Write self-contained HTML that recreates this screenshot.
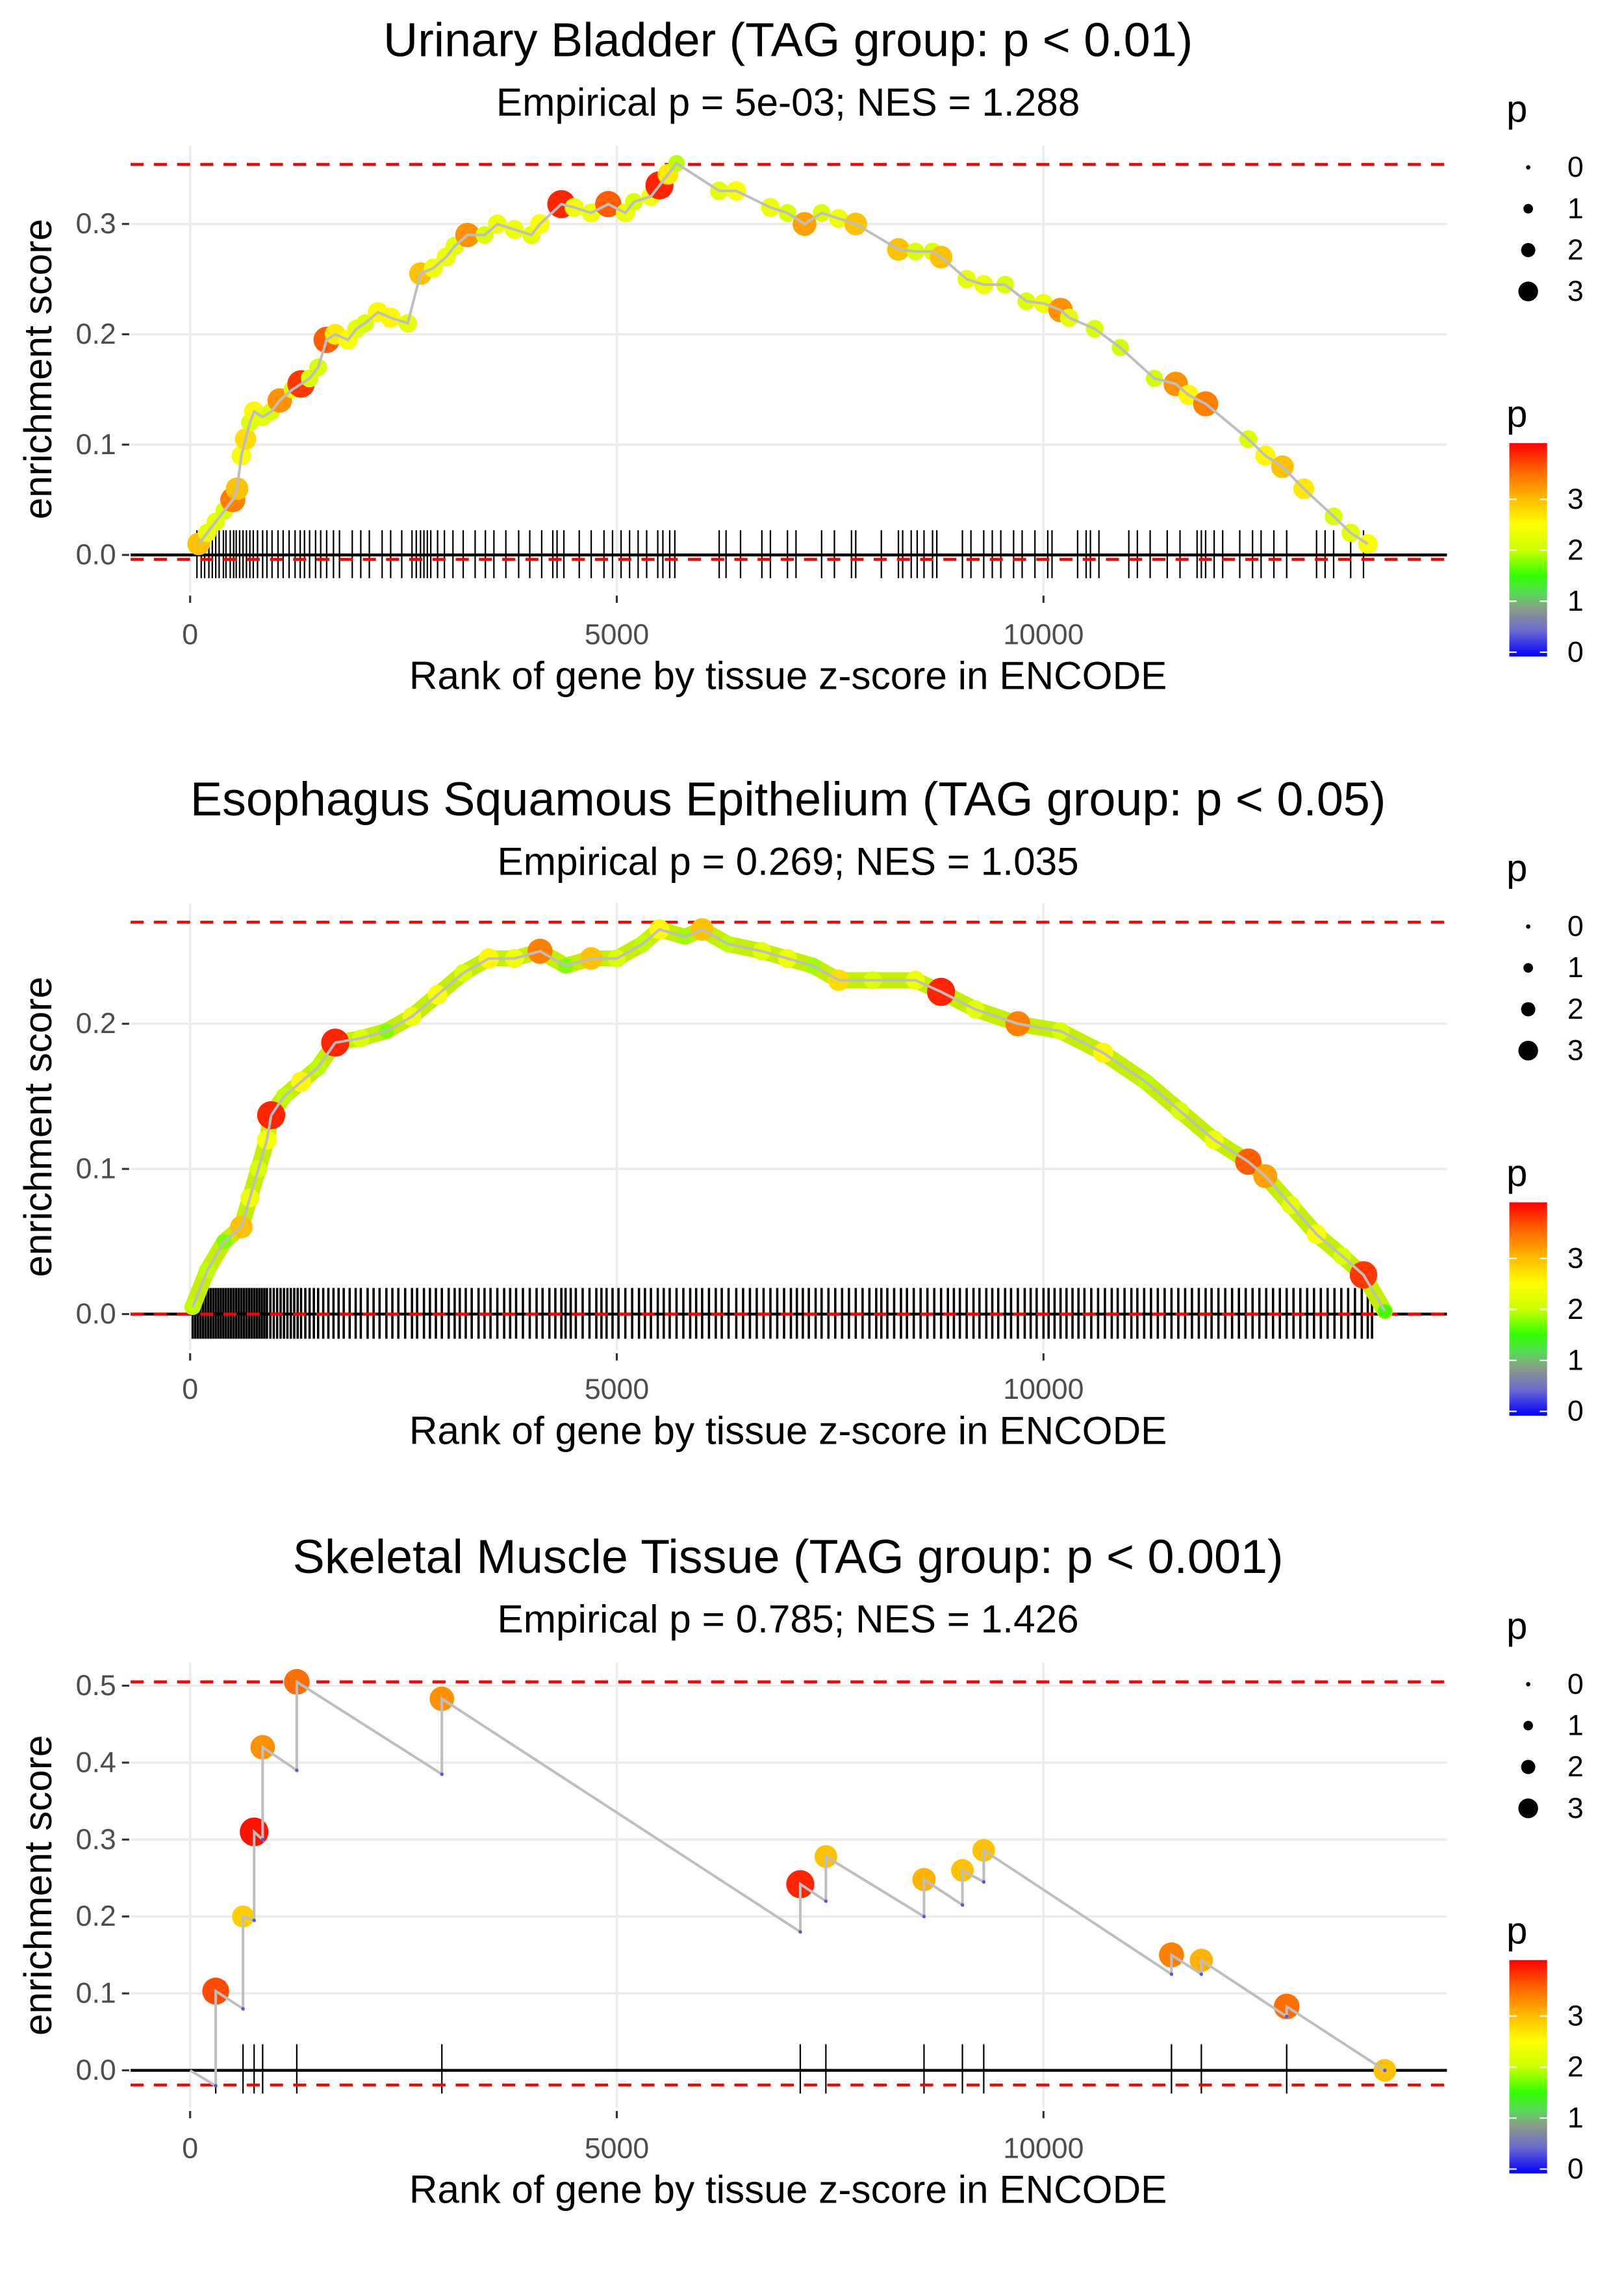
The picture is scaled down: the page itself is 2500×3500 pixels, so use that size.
<!DOCTYPE html>
<html><head><meta charset="utf-8">
<style>
html,body{margin:0;padding:0;background:#fff;}
svg{display:block;}
text{font-family:"Liberation Sans",sans-serif;}
</style></head>
<body>
<svg id="chart" width="2500" height="3500" viewBox="0 0 1119 1566" xmlns="http://www.w3.org/2000/svg">
<defs>
<linearGradient id="pgrad" x1="0" y1="1" x2="0" y2="0">
<stop offset="0" stop-color="#0000ff"/>
<stop offset="0.12" stop-color="#6a6ad0"/>
<stop offset="0.22" stop-color="#8a9a8a"/>
<stop offset="0.3" stop-color="#55dd55"/>
<stop offset="0.38" stop-color="#33ff00"/>
<stop offset="0.5" stop-color="#ccff00"/>
<stop offset="0.62" stop-color="#ffff00"/>
<stop offset="0.74" stop-color="#ffbb00"/>
<stop offset="0.87" stop-color="#ff6600"/>
<stop offset="1" stop-color="#ff0000"/>
</linearGradient>
</defs>
<g id="root"></g>
</svg>
<script>
// ---------- Panel 1 data: Urinary Bladder ----------
const p1Rank = [100,200,300,400,500,550,600,650,700,750,850,950,1050,1200,1300,1400,1500,1600,1700,1850,1950,2050,2200,2350,2550,2700,2850,3000,3100,3250,3450,3600,3800,4000,4100,4350,4500,4700,4900,5100,5200,5400,5500,5600,5700,6200,6400,6800,7000,7200,7400,7600,7800,8300,8500,8700,8800,9100,9300,9550,9800,10000,10200,10300,10600,10900,11300,11550,11700,11900,12400,12600,12800,13050,13400,13600,13800];
const p1ES = [0.01,0.02,0.03,0.04,0.05,0.06,0.09,0.105,0.12,0.13,0.125,0.13,0.14,0.15,0.155,0.16,0.17,0.195,0.2,0.195,0.205,0.21,0.22,0.215,0.21,0.255,0.26,0.27,0.28,0.29,0.29,0.3,0.295,0.29,0.3,0.318,0.315,0.31,0.318,0.31,0.32,0.325,0.335,0.345,0.355,0.33,0.33,0.315,0.31,0.3,0.31,0.305,0.3,0.277,0.275,0.275,0.27,0.25,0.245,0.245,0.23,0.228,0.222,0.215,0.205,0.188,0.16,0.155,0.145,0.137,0.105,0.09,0.08,0.06,0.035,0.02,0.01];
const p1P = [3.0,2.3,2.3,2.2,3.4,3.0,2.5,2.8,2.2,2.6,2.3,2.2,3.3,2.2,3.8,2.2,2.2,3.6,2.7,2.5,2.3,2.2,2.6,2.6,2.3,3.0,2.4,2.4,2.3,3.3,2.2,2.4,2.4,2.3,2.5,3.9,2.4,2.4,3.6,2.4,2.2,2.4,3.9,2.7,2.0,2.3,2.5,2.4,2.2,3.2,2.2,2.4,3.0,3.0,2.2,2.2,3.0,2.3,2.4,2.2,2.2,2.4,3.3,2.3,2.2,2.1,2.1,3.3,2.6,3.4,2.2,2.6,3.0,2.7,2.2,2.3,2.5];
const p1Ticks = [80,130,170,220,260,300,340,390,420,470,510,540,580,620,660,700,740,790,850,900,960,1030,1090,1160,1230,1290,1340,1400,1470,1530,1600,1680,1750,1900,2000,2100,2250,2350,2480,2600,2650,2700,2740,2780,2820,2900,2980,3080,3200,3340,3460,3560,3700,3850,3980,4120,4250,4300,4380,4560,4700,4850,4950,5050,5150,5250,5350,5480,5540,5620,5680,6200,6280,6450,6700,6800,7000,7100,7400,7550,7750,7800,8100,8300,8350,8450,8520,8600,8700,8750,9050,9150,9300,9400,9500,9650,9750,9900,10050,10100,10400,10500,10550,10650,11000,11100,11250,11450,11600,11800,11850,11900,12000,12100,12300,12450,12550,12700,12850,13200,13300,13400,13600,13750];
const p1YTicks = [0,0.1,0.2,0.3];
const p1YTickLabels = ["0.0","0.1","0.2","0.3"];
const p1Max = 0.354, p1Min = -0.004;

// ---------- Panel 2 data: Esophagus ----------
const p2Rank = [30,200,400,600,700,800,900,950,1100,1300,1500,1700,2000,2300,2600,2900,3200,3500,3800,4100,4400,4700,5000,5300,5500,5800,6000,6300,6700,7000,7300,7600,8000,8500,8800,9200,9700,10200,10700,11200,11600,12000,12400,12600,12900,13200,13500,13750,14000];
const p2ES = [0.005,0.03,0.05,0.06,0.08,0.1,0.12,0.137,0.15,0.16,0.17,0.187,0.19,0.195,0.205,0.22,0.235,0.245,0.245,0.25,0.24,0.245,0.245,0.255,0.265,0.26,0.265,0.255,0.25,0.245,0.24,0.23,0.23,0.23,0.222,0.21,0.2,0.195,0.18,0.16,0.14,0.12,0.105,0.095,0.075,0.055,0.04,0.027,0.002];
const p2P = [2.0,2.0,1.8,3.0,2.4,2.2,2.5,3.9,2.0,2.6,2.0,3.9,2.2,1.8,2.4,2.5,2.2,2.6,2.4,3.4,1.8,3.0,2.2,2.0,2.6,1.9,3.0,2.0,2.3,2.4,1.9,2.8,2.2,2.4,3.9,2.3,3.4,2.2,2.6,2.0,2.2,2.4,3.6,3.2,2.3,2.5,2.2,3.8,1.6];
const p2Ticks = [30,60,90,120,150,180,210,240,270,300,330,360,390,420,450,480,510,540,570,600,630,660,690,720,750,780,810,840,870,900,940,980,1020,1060,1100,1140,1180,1220,1260,1300,1350,1400,1450,1500,1560,1620,1680,1740,1800,1870,1940,2000,2080,2150,2220,2300,2370,2440,2520,2600,2660,2740,2810,2880,2950,3030,3100,3160,3230,3300,3380,3450,3520,3600,3680,3750,3820,3900,3980,4060,4130,4210,4280,4350,4400,4460,4520,4600,4680,4760,4820,4880,4950,5020,5100,5180,5260,5330,5400,5480,5550,5620,5700,5780,5860,5930,6000,6080,6160,6230,6310,6400,6480,6560,6640,6720,6800,6880,6960,7040,7110,7180,7250,7330,7400,7480,7560,7640,7720,7800,7880,7960,8040,8100,8170,8250,8330,8400,8480,8560,8640,8720,8800,8880,8950,9020,9100,9180,9250,9330,9400,9470,9550,9620,9700,9780,9850,9920,10000,10060,10130,10200,10270,10340,10410,10480,10560,10640,10720,10800,10870,10950,11030,11100,11180,11260,11340,11420,11500,11580,11660,11740,11820,11900,11970,12050,12130,12210,12290,12370,12450,12530,12610,12690,12770,12850,12930,13010,13090,13170,13250,13330,13410,13490,13570,13650,13730,13800,13850];
const p2YTicks = [0,0.1,0.2];
const p2YTickLabels = ["0.0","0.1","0.2"];
const p2Max = 0.27, p2Min = 0.0;

// ---------- Panel 3 data: Skeletal Muscle ----------
const p3Rank = [300,620,750,850,1250,2950,7150,7450,8600,9050,9300,11500,11850,12850,14000];
const p3ESBefore = [-0.02,0.08,0.195,0.3,0.39,0.385,0.18,0.22,0.2,0.215,0.245,0.125,0.125,0.07,0.0];
const p3ESAfter = [0.103,0.2,0.31,0.42,0.505,0.483,0.242,0.278,0.248,0.26,0.286,0.15,0.143,0.083,0.0];
const p3P = [3.7,2.9,4.0,3.3,3.5,3.3,3.9,3.0,3.1,3.0,3.0,3.4,3.1,3.5,3.0];
const p3YTicks = [0,0.1,0.2,0.3,0.4,0.5];
const p3YTickLabels = ["0.0","0.1","0.2","0.3","0.4","0.5"];
const p3Max = 0.505, p3Min = -0.019;

const xTicks = [0,5000,10000];
const xTickLabels = ["0","5000","10000"];
const sizeLegendVals = [0,1,2,3];
const colorLegendVals = [0,1,2,3];

const NS = "http://www.w3.org/2000/svg";
const root = document.getElementById('root');
function mk(tag, attrs, parent){
  const e = document.createElementNS(NS, tag);
  for (const k in attrs) e.setAttribute(k, attrs[k]);
  (parent||root).appendChild(e);
  return e;
}
const stops = [[0,[0,0,255]],[0.5,[106,106,208]],[0.9,[138,154,138]],[1.2,[85,221,85]],[1.55,[51,255,0]],[2.05,[204,255,0]],[2.55,[255,255,0]],[3.05,[255,187,0]],[3.55,[255,102,0]],[4.1,[255,0,0]]];
function pColor(p){
  if (p<=stops[0][0]) return 'rgb(0,0,255)';
  for (let i=1;i<stops.length;i++){
    if (p<=stops[i][0]){
      const a=stops[i-1], b=stops[i], t=(p-a[0])/(b[0]-a[0]);
      const c=a[1].map((v,j)=>Math.round(v+(b[1][j]-v)*t));
      return 'rgb('+c.join(',')+')';
    }
  }
  return 'rgb(255,0,0)';
}
function pRadius(p){ return 1.5 + p*2.1; }
const xScale = r => 131 + r*294/5000;
const L = 90, R = 997;

function frame(cfg){
  const g = mk('g', {});
  
  
  const y = v => cfg.y0 - v*cfg.ppu;
  cfg.yTicks.forEach((v,i)=>{
    const gl = mk('line',{x1:L,x2:R,y1:y(v),y2:y(v),stroke:'#ebebeb','stroke-width':1.6},g);
    
    
    const tk = mk('line',{x1:84,x2:89,y1:y(v),y2:y(v),stroke:'#333','stroke-width':1.4},g);
    
    
    const t = mk('text',{x:80,y:y(v),'text-anchor':'end','dominant-baseline':'central','font-size':20,fill:'#4d4d4d'},g);
    t.textContent = cfg.yLabels[i];
    
    
  });
  xTicks.forEach((v,i)=>{
    const gl = mk('line',{x1:xScale(v),x2:xScale(v),y1:cfg.top,y2:cfg.bottom,stroke:'#ebebeb','stroke-width':1.6},g);
    
    
    const tk = mk('line',{x1:xScale(v),x2:xScale(v),y1:cfg.bottom+2,y2:cfg.bottom+7,stroke:'#333','stroke-width':1.4},g);
    
    
    const t = mk('text',{x:xScale(v),y:cfg.xlab,'text-anchor':'middle','dominant-baseline':'central','font-size':20,fill:'#4d4d4d'},g);
    t.textContent = xTickLabels[i];
    
    
  });
  cfg.ticks.forEach(r=>{
    const b = mk('line',{x1:xScale(r),x2:xScale(r),y1:cfg.band[0],y2:cfg.band[1],stroke:'#000','stroke-width':cfg.tw||1},g);
    
    
  });
  const zl = mk('line',{x1:L,x2:R,y1:y(0),y2:y(0),stroke:'#000','stroke-width':2},g);
  
  
  [cfg.max,cfg.min].forEach(v=>{
    const d = mk('line',{x1:L,x2:R,y1:y(v),y2:y(v),stroke:'#ff0000','stroke-width':2,'stroke-dasharray':'9,7'},g);
    
    
  });
  const t1 = mk('text',{x:543,y:cfg.title,'text-anchor':'middle','dominant-baseline':'central','font-size':33,fill:'#000'},g);
  t1.textContent = cfg.titleText;
  
  
  const t2 = mk('text',{x:543,y:cfg.title+43,'text-anchor':'middle','dominant-baseline':'central','font-size':27,fill:'#000'},g);
  t2.textContent = cfg.subText;
  
  
  const xt = mk('text',{x:543,y:cfg.xlab+28,'text-anchor':'middle','dominant-baseline':'central','font-size':27,fill:'#000'},g);
  xt.textContent = 'Rank of gene by tissue z-score in ENCODE';
  
  
  const yc = (cfg.top+cfg.bottom)/2;
  const yt = mk('text',{x:26,y:yc,'text-anchor':'middle','dominant-baseline':'central','font-size':27,fill:'#000',transform:'rotate(-90 26 '+yc+')'},g);
  yt.textContent = 'enrichment score';
  
  
  const lo = cfg.title + 48;
  const sp = mk('text',{x:1038,y:lo,'font-size':26,'dominant-baseline':'central',fill:'#000'},g);
  sp.textContent='p';
  
  
  sizeLegendVals.forEach((v,i)=>{
    const yy = lo+40+i*28.5;
    const c = mk('circle',{cx:1053,cy:yy,r:[1.5,3.3,4.9,6.8][i],fill:'#000'},g);
    
    
    const t = mk('text',{x:1080,y:yy,'font-size':20,'dominant-baseline':'central',fill:'#000'},g);
    t.textContent = String(v);
    
    
  });
  const cp = mk('text',{x:1038,y:lo+210,'font-size':26,'dominant-baseline':'central',fill:'#000'},g);
  cp.textContent='p';
  
  
  const bt = lo+230, bb = lo+377;
  const bar = mk('rect',{x:1040,y:bt,width:26,height:bb-bt,fill:'url(#pgrad)'},g);
  
  
  colorLegendVals.forEach(v=>{
    const yy = bb-3 - v*(bb-bt-3)/4.1;
    mk('line',{x1:1040,x2:1045,y1:yy,y2:yy,stroke:'#fff','stroke-width':1},g);
    mk('line',{x1:1061,x2:1066,y1:yy,y2:yy,stroke:'#fff','stroke-width':1},g);
    const t = mk('text',{x:1080,y:yy,'font-size':20,'dominant-baseline':'central',fill:'#000'},g);
    t.textContent = String(v);
    
    
  });
  return {g, y};
}

function curvePanel(cfg, ranks, es, ps, lw){
  const {g, y} = frame(cfg);
  const pts = ranks.map((r,i)=>xScale(r)+','+y(es[i])).join(' ');
  if (lw){
    const band = mk('polyline',{points:pts,fill:'none',stroke:'#c4f000','stroke-width':lw,'stroke-linejoin':'round','stroke-linecap':'round'},g);
    
    
  }
  ranks.forEach((r,i)=>{
    const c = mk('circle',{cx:xScale(r),cy:y(es[i]),r:pRadius(ps[i]),fill:pColor(ps[i])},g);
    
    
  });
  const line = mk('polyline',{points:pts,fill:'none',stroke:'#bebebe','stroke-width':1.8},g);
  
  
}

curvePanel({name:'panel-urinary-bladder',y0:382,ppu:760,top:100,bottom:408,yTicks:p1YTicks,yLabels:p1YTickLabels,max:p1Max,min:p1Min,ticks:p1Ticks,band:[365,398],title:27,xlab:437,titleText:'Urinary Bladder (TAG group: p < 0.01)',subText:'Empirical p = 5e-03; NES = 1.288'}, p1Rank, p1ES, p1P, 0);

curvePanel({name:'panel-esophagus',y0:905,ppu:1000,top:622,bottom:930,yTicks:p2YTicks,yLabels:p2YTickLabels,max:p2Max,min:p2Min,ticks:p2Ticks,band:[887,922],tw:1.6,title:550,xlab:957,titleText:'Esophagus Squamous Epithelium (TAG group: p < 0.05)',subText:'Empirical p = 0.269; NES = 1.035'}, p2Rank, p2ES, p2P, 11);

(function(){
  const cfg = {name:'panel-skeletal-muscle',y0:1426,ppu:530,top:1145,bottom:1452,yTicks:p3YTicks,yLabels:p3YTickLabels,max:p3Max,min:p3Min,ticks:p3Rank.slice(0,p3Rank.length-1),band:[1408,1442],title:1072,xlab:1480,titleText:'Skeletal Muscle Tissue (TAG group: p < 0.001)',subText:'Empirical p = 0.785; NES = 1.426'};
  const {g, y} = frame(cfg);
  let pts = [xScale(0)+','+y(0)];
  p3Rank.forEach((r,i)=>{ pts.push(xScale(r)+','+y(p3ESBefore[i])); pts.push(xScale(r)+','+y(p3ESAfter[i])); });
  p3Rank.forEach((r,i)=>{
    const c = mk('circle',{cx:xScale(r),cy:y(p3ESAfter[i]),r:pRadius(p3P[i]),fill:pColor(p3P[i])},g);
    
    
  });
  const line = mk('polyline',{points:pts.join(' '),fill:'none',stroke:'#bebebe','stroke-width':1.8},g);
  
  
  p3Rank.forEach((r,i)=>{
    const c = mk('circle',{cx:xScale(r),cy:y(p3ESBefore[i]),r:1.2,fill:'#5555dd'},g);
    
    
  });
})();
</script>
</body></html>
